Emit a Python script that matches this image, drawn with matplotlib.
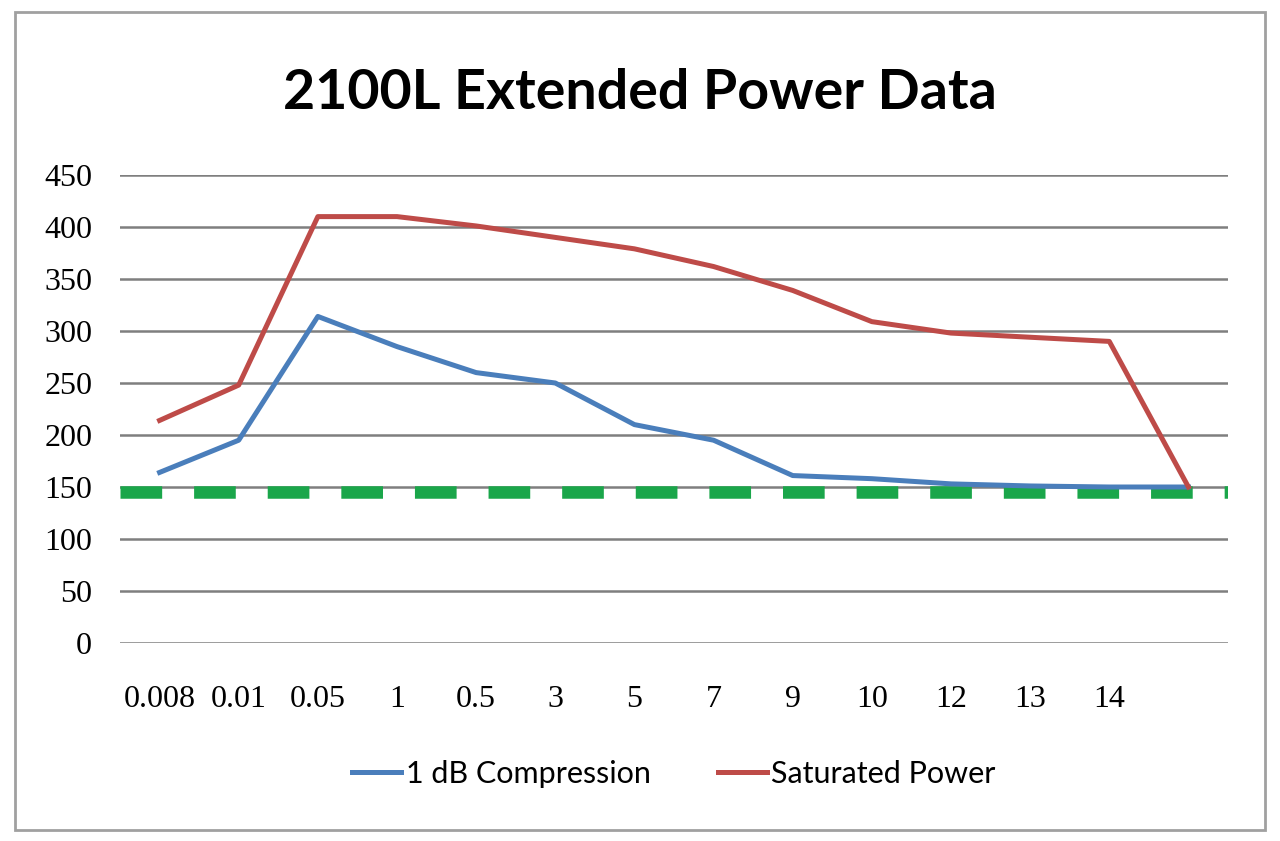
import matplotlib.pyplot as plt
from matplotlib.patches import Rectangle

# chart data
categories = ['0.008', '0.01', '0.05', '1', '0.5', '3', '5', '7', '9', '10', '12', '13', '14', '']
compression = [164, 195, 314, 285, 260, 250, 210, 195, 161, 158, 153, 151, 150, 150]
saturated = [214, 248, 410, 410, 401, 390, 379, 362, 339, 309, 298, 294, 290, 150]
spec_level = [145]
y_ticks = [0, 50, 100, 150, 200, 250, 300, 350, 400, 450]

plt.rcParams['lines.scale_dashes'] = False

fig = plt.figure(figsize=(12.8, 8.41), dpi=100)
fig.patches.append(Rectangle((15/1280, 11/841), 1250/1280, 818/841, transform=fig.transFigure,
                             fill=False, edgecolor='#a0a0a0', linewidth=2))

ax = fig.add_axes([120/1280, 198/841, 1108/1280, 468/841])
x = range(len(categories))

for yv in y_ticks:
    ax.axhline(yv, color='#7f7f7f', linewidth=1.8, zorder=1)

ax.axhline(spec_level[0], color='#1aa64a', linewidth=9, dashes=(30, 23),
           solid_capstyle='butt', dash_capstyle='butt', zorder=2)

ax.plot(x, compression, color='#4a7ebb', linewidth=3.6, label='1 dB Compression', zorder=3)
ax.plot(x, saturated, color='#be4b48', linewidth=3.6, label='Saturated Power', zorder=3)

ax.set_xlim(-0.5, len(categories) - 0.5)
ax.set_ylim(0, 450)
ax.set_yticks(y_ticks)
ax.set_xticks(list(x))
ax.set_xticklabels(categories)
for s in ax.spines.values():
    s.set_visible(False)
ax.tick_params(length=0, labelsize=23, colors='black')
ax.tick_params(axis='y', pad=20)
ax.tick_params(axis='x', pad=30)
for lab in ax.get_xticklabels() + ax.get_yticklabels():
    lab.set_family('Liberation Serif')

fig.text(0.5, 0.889, '2100L Extended Power Data', ha='center', va='center',
         fontsize=40, fontweight='bold', family='Lato')

ax.legend(loc='center', bbox_to_anchor=(0.5, -0.28), ncol=2, frameon=False,
          prop={'family': 'Lato', 'size': 22}, handlelength=1.6, handletextpad=0.15,
          columnspacing=2.2)

fig.savefig('out.png', dpi=100)
